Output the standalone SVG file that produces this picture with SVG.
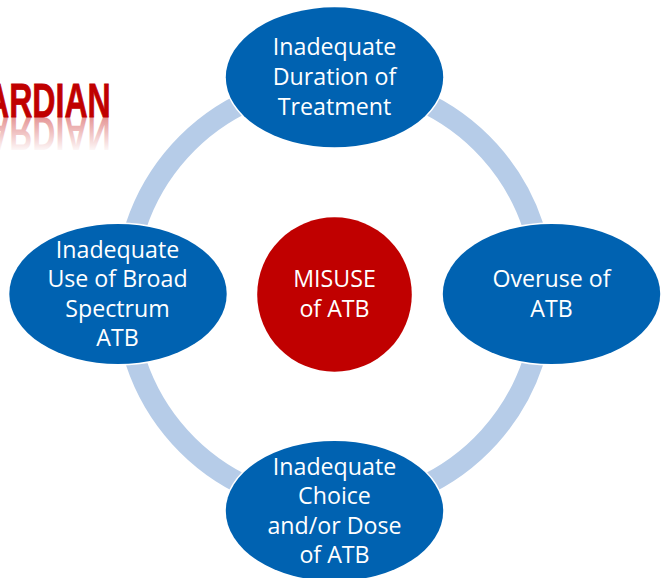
<svg xmlns="http://www.w3.org/2000/svg" width="665" height="578" viewBox="0 0 665 578">
<style>
.n{fill:#0062b1;stroke:#fff;stroke-width:3;paint-order:stroke}
.t{font-family:"Open Sans","Noto Sans",sans-serif;font-size:23.2px;fill:#fff;text-anchor:middle}
.c{fill:none;stroke:#b6cce8;stroke-width:21}
.l{font-family:"Liberation Sans",Arial,sans-serif;font-weight:700;font-size:48px}
</style>
<defs>
<linearGradient id="g" gradientUnits="userSpaceOnUse" x1="0" y1="0" x2="0" y2="-36">
<stop offset="0" stop-color="#c00000" stop-opacity=".42"/><stop offset="1" stop-color="#c00000" stop-opacity="0"/>
</linearGradient>
</defs>
<g id="logo">
<text class="l" fill="#c00000" stroke="#c00000" stroke-width=".8" transform="translate(-14,117) scale(.6,1)" textLength="208" lengthAdjust="spacingAndGlyphs">ARDIAN</text>
<text class="l" fill="url(#g)" transform="translate(-14,117) scale(.6,-1)" textLength="208" lengthAdjust="spacingAndGlyphs">ARDIAN</text>
</g>
<g id="connectors">
<path class="c" d="M250 100A211 211 0 0 0 136 226"/>
<path class="c" d="M419 100A211 211 0 0 1 533 226"/>
<path class="c" d="M533 362A211 211 0 0 1 419 488"/>
<path class="c" d="M250 488A211 211 0 0 1 136 362"/>
</g>
<g id="node-top"><ellipse class="n" cx="334.500" cy="77.300" rx="108.700" ry="70"/>
<text class="t" x="334.500" y="55">Inadequate</text><text class="t" x="334.500" y="85">Duration of</text><text class="t" x="334.500" y="115">Treatment</text></g>
<g id="node-right"><ellipse class="n" cx="551.500" cy="294" rx="108.700" ry="70"/>
<text class="t" x="551.500" y="287">Overuse of</text><text class="t" x="551.500" y="317">ATB</text></g>
<g id="node-bottom"><ellipse class="n" cx="334.500" cy="511" rx="108.700" ry="70"/>
<text class="t" x="334.500" y="475">Inadequate</text><text class="t" x="334.500" y="504">Choice</text><text class="t" x="334.500" y="534">and/or Dose</text><text class="t" x="334.500" y="563">of ATB</text></g>
<g id="node-left"><ellipse class="n" cx="118" cy="294" rx="108.700" ry="70"/>
<text class="t" x="117.500" y="258">Inadequate</text><text class="t" x="117.500" y="287">Use of Broad</text><text class="t" x="117.500" y="317">Spectrum</text><text class="t" x="117.500" y="346">ATB</text></g>
<g id="node-center"><ellipse cx="334.500" cy="294.500" rx="77.300" ry="77.200" fill="#c00000"/>
<text class="t" x="334.500" y="287">MISUSE</text><text class="t" x="334.500" y="317">of ATB</text></g>
</svg>
